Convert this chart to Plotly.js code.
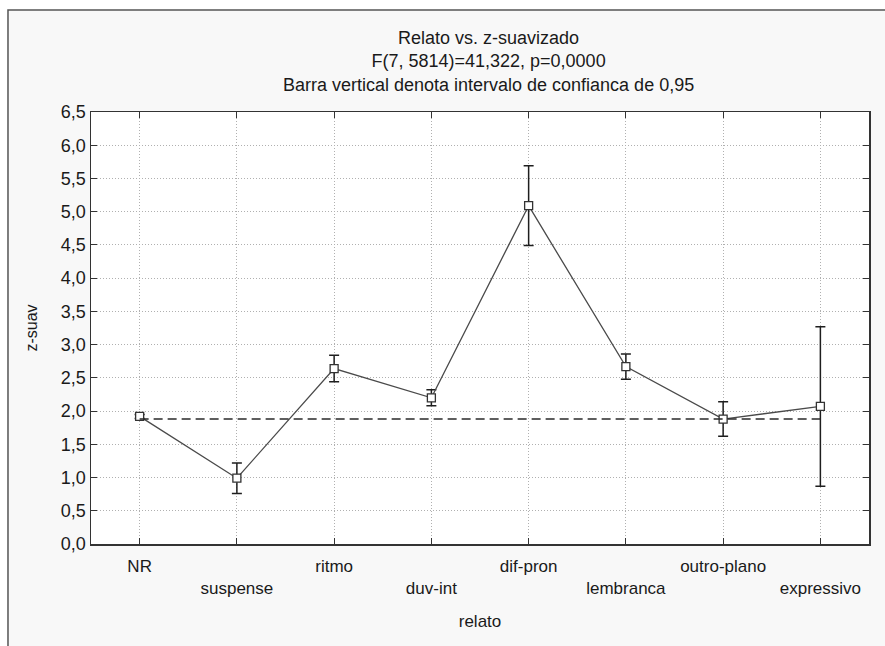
<!DOCTYPE html>
<html>
<head>
<meta charset="utf-8">
<script src="https://cdn.plot.ly/plotly-3.0.1.min.js"></script>
<style>
  html, body { margin: 0; padding: 0; background: #ffffff; }
  #chart { width: 885px; height: 646px; }
</style>
</head>
<body>
<div id="chart"></div>
<script>
// Categories of "relato" and the mean of z-suav per group
const categories = ['NR', 'suspense', 'ritmo', 'duv-int', 'dif-pron', 'lembranca', 'outro-plano', 'expressivo'];
const means = [1.92, 0.99, 2.64, 2.20, 5.09, 2.67, 1.88, 2.07];
// Half-width of the 95% confidence interval for each mean
const ciHalf = [0.03, 0.23, 0.20, 0.12, 0.60, 0.19, 0.26, 1.20];
// Grand mean shown as the dashed reference line
const grandMean = 1.88;
const yTicks = [0, 0.5, 1, 1.5, 2, 2.5, 3, 3.5, 4, 4.5, 5, 5.5, 6, 6.5];

// Alternate tick labels onto two rows so the long names do not collide
const tickText = categories.map((c, i) => (i % 2 ? '<br>' + c : c));

const FONT = 'Liberation Sans, Arial, sans-serif';
const INK = '#1a1a1a';

const traces = [
  {
    x: categories,
    y: means,
    mode: 'lines+markers',
    line: { color: '#4a4a4a', width: 1.3 },
    marker: { symbol: 'square', size: 8, color: '#ffffff', line: { color: '#333333', width: 1.3 } },
    error_y: { type: 'data', array: ciHalf, visible: true, color: '#1e1e1e', thickness: 1.5, width: 5 },
    showlegend: false
  },
  {
    x: [categories[0], categories[categories.length - 1]],
    y: [grandMean, grandMean],
    mode: 'lines',
    line: { color: '#2a2a2a', width: 1.6, dash: '9px,5px' },
    hoverinfo: 'skip',
    showlegend: false
  }
];

const layout = {
  width: 885,
  height: 646,
  margin: { l: 91, r: 16, t: 112, b: 102 },
  paper_bgcolor: '#ffffff',
  plot_bgcolor: '#ffffff',
  separators: ', ',
  font: { family: FONT, size: 18, color: INK },
  title: {
    text: 'Relato vs. z-suavizado<br>F(7, 5814)=41,322, p=0,0000<br>Barra vertical denota intervalo de confianca de 0,95',
    font: { family: FONT, size: 18, color: INK },
    x: 0.511, xref: 'paper', xanchor: 'center',
    y: 0.932, yref: 'container', yanchor: 'top'
  },
  xaxis: {
    type: 'category',
    categoryorder: 'array',
    categoryarray: categories,
    range: [-0.5, 7.5],
    tickmode: 'array',
    tickvals: categories,
    ticktext: tickText,
    ticks: 'inside', ticklen: 6, tickcolor: '#333333',
    showline: true, linecolor: '#333333', linewidth: 1.5, mirror: 'ticks',
    showgrid: true, gridcolor: '#b0b0b0', griddash: '1px,2px', gridwidth: 1,
    tickfont: { family: FONT, size: 17, color: INK },
    ticklabelstandoff: 6,
    title: { text: 'relato', font: { family: FONT, size: 17, color: INK }, standoff: 18 },
    automargin: false,
    fixedrange: true
  },
  yaxis: {
    range: [0, 6.5],
    tickmode: 'array',
    tickvals: yTicks,
    tickformat: '.1f',
    ticks: 'inside', ticklen: 6, tickcolor: '#333333',
    showline: true, linecolor: '#333333', linewidth: 1.5, mirror: 'ticks',
    showgrid: true, gridcolor: '#b0b0b0', griddash: '1px,2px', gridwidth: 1,
    zeroline: false,
    tickfont: { family: FONT, size: 18, color: INK },
    title: { text: 'z-suav', font: { family: FONT, size: 16, color: INK }, standoff: 19 },
    automargin: false,
    fixedrange: true
  },
  shapes: [
    // outer graph window frame
    { type: 'rect', xref: 'paper', yref: 'paper', layer: 'below',
      x0: -0.1067, x1: 1.2, y0: -0.4, y1: 1.236,
      fillcolor: '#f8f8f8', line: { color: '#555555', width: 1.5 } },
    // white plotting area
    { type: 'rect', xref: 'paper', yref: 'paper', layer: 'below',
      x0: 0, x1: 1, y0: 0, y1: 1,
      fillcolor: '#ffffff', line: { width: 0 } }
  ]
};

Plotly.newPlot('chart', traces, layout, { displayModeBar: false, staticPlot: true });
</script>
</body>
</html>
